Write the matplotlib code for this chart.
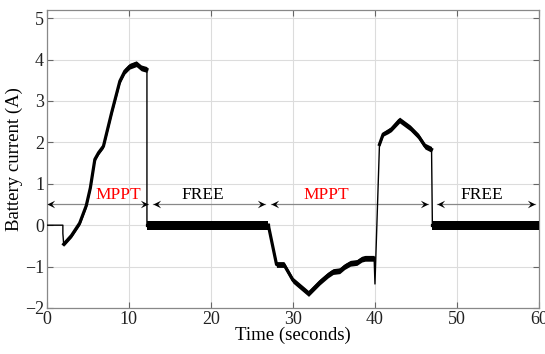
import numpy as np
import matplotlib
matplotlib.use('Agg')
import matplotlib.pyplot as plt
from matplotlib.path import Path

plt.rcParams['font.family'] = ['Liberation Serif', 'DejaVu Serif']

# thin trace: idle start, drops and the spike before the second MPPT hump
t_thin = [0, 1.95, 1.95, 2.05]
i_thin = [0, 0, -0.2, -0.46]

# MPPT run 1
t_m1 = [2.05, 3.0, 4.0, 4.8, 5.3, 5.85, 6.3, 6.9, 7.9, 8.9, 9.5, 10.1, 10.9, 11.5, 12.2]
i_m1 = [-0.46, -0.25, 0.05, 0.47, 0.9, 1.59, 1.75, 1.91, 2.72, 3.48, 3.72, 3.84, 3.9, 3.8, 3.76]
w_m1 = [0.05, 0.05, 0.05, 0.05, 0.05, 0.05, 0.05, 0.05, 0.05, 0.06, 0.07, 0.07, 0.07, 0.07, 0.07]

# FREE run 1
t_f1 = [12.2, 27.0]
i_f1 = [0.0, 0.0]

# MPPT run 2 (negative part)
t_m2 = [27.0, 28.0, 28.9, 30.0, 31.9, 33.3, 34.3, 34.9, 35.7, 36.3, 37.0, 37.8, 38.4, 38.8, 39.9]
i_m2 = [0.0, -0.95, -0.95, -1.33, -1.65, -1.37, -1.2, -1.12, -1.1, -1.0, -0.92, -0.9, -0.82, -0.8, -0.8]

# spike and fast rise
t_sp = [39.9, 40.0, 40.55]
i_sp = [-0.8, -1.42, 1.95]

# MPPT run 2 (positive hump)
t_m3 = [40.55, 41.0, 41.6, 42.0, 43.0, 44.3, 45.3, 46.1, 46.9]
i_m3 = [1.95, 2.2, 2.27, 2.32, 2.54, 2.35, 2.15, 1.91, 1.83]

# FREE run 2
t_f2 = [47.0, 60.0]
i_f2 = [0.0, 0.0]

# mode arrows and labels
seg_start = [0.0, 12.9, 27.3, 47.6]
seg_end = [12.3, 26.6, 46.5, 59.5]
mode_names = ['MPPT', 'FREE', 'MPPT', 'FREE']
mode_x = [8.7, 19.0, 34.1, 53.0]
mode_colors = ['red', 'black', 'red', 'black']
arrow_y = 0.5

fig = plt.figure(figsize=(5.45, 3.54), dpi=100)
ax = fig.add_axes([0.086, 0.13, 0.903, 0.842])

# full center trace as a thin line
t_all = t_thin + t_m1 + [12.2] + t_f1 + t_m2 + t_sp + t_m3 + [47.0] + t_f2
i_all = i_thin + i_m1 + [0.0] + i_f1 + i_m2 + i_sp + i_m3 + [0.0] + i_f2
ax.plot(t_all, i_all, color='black', lw=1.0, zorder=3)

def band(t, i, w):
    t = np.asarray(t); i = np.asarray(i); w = np.asarray(w)
    ax.fill_between(t, i - w, i + w, color='black', lw=0, zorder=3)
    ax.plot(t, i, color='black', lw=2.3, zorder=3, solid_joinstyle='round')

band(t_m1, i_m1, w_m1)
band(t_f1, i_f1, [0.11, 0.11])
band(t_m2, i_m2, [0.02] + [0.07] * (len(t_m2) - 1))
band(t_m3, i_m3, [0.03, 0.05, 0.06, 0.06, 0.07, 0.07, 0.07, 0.07, 0.07])
band(t_f2, i_f2, [0.11, 0.11])

# barbed arrow heads
right_head = Path([(0, 0), (-1, 0.5), (-0.6, 0), (-1, -0.5), (0, 0)],
                  [Path.MOVETO, Path.LINETO, Path.LINETO, Path.LINETO, Path.CLOSEPOLY])
left_head = Path([(0, 0), (1, 0.5), (0.6, 0), (1, -0.5), (0, 0)],
                 [Path.MOVETO, Path.LINETO, Path.LINETO, Path.LINETO, Path.CLOSEPOLY])
for a, b, name, x, c in zip(seg_start, seg_end, mode_names, mode_x, mode_colors):
    ax.plot([a, b], [arrow_y, arrow_y], color='#888888', lw=0.9, zorder=2)
    ax.plot([a], [arrow_y], marker=left_head, ms=11, color='black', mew=0, zorder=4,
            clip_on=False)
    ax.plot([b], [arrow_y], marker=right_head, ms=11, color='black', mew=0, zorder=4)
    ax.text(x, 0.72, name, color=c, fontsize=12.5, ha='center', va='center', zorder=4)

ax.set_xlim(0, 60)
ax.set_ylim(-2, 5.2)
ax.set_xticks(np.arange(0, 61, 10))
ax.set_yticks(np.arange(-2, 6, 1))
ax.grid(True, color='#dcdcdc', lw=0.8)
ax.set_axisbelow(True)
for s in ax.spines.values():
    s.set_color('#888888')
    s.set_linewidth(0.9)
ax.tick_params(direction='in', top=True, right=True, color='#666666',
               labelsize=13, length=4, pad=2, labelcolor='#222222')
ax.set_xlabel('Time (seconds)', fontsize=13.5, labelpad=-1)
ax.set_ylabel('Battery current (A)', fontsize=13.5, labelpad=1)

fig.savefig('out.png', dpi=100)
